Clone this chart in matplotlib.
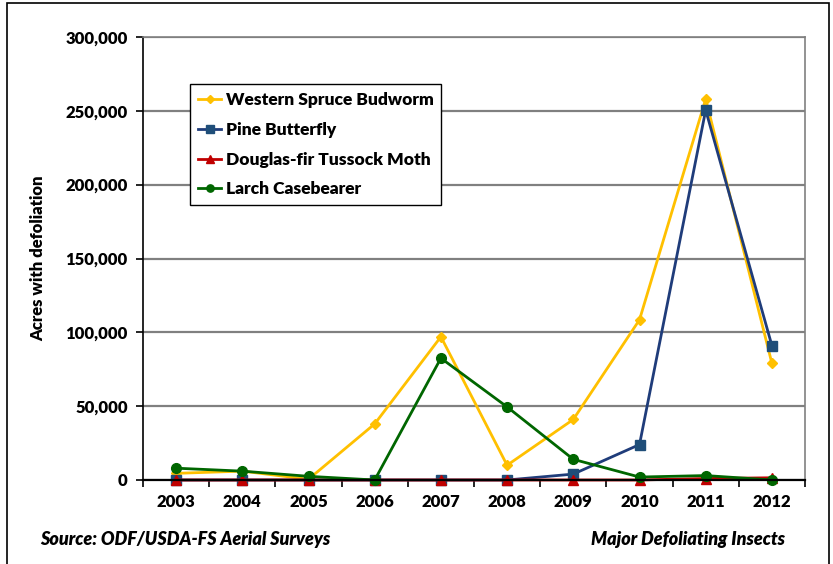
import matplotlib.pyplot as plt
from matplotlib.patches import Rectangle
from matplotlib.ticker import FuncFormatter, MultipleLocator

plt.rcParams['font.family'] = ['Lato', 'DejaVu Sans']

# Acres defoliated per year, by insect
years = ['2003', '2004', '2005', '2006', '2007', '2008', '2009', '2010', '2011', '2012']
spruce_budworm = [4500, 6000, 500, 38000, 97000, 10000, 41000, 108500, 258000, 79000]
pine_butterfly = [0, 0, 0, 0, 0, 0, 4000, 24000, 250500, 91000]
tussock_moth = [0, 0, 0, 0, 0, 0, 0, 0, 1000, 1500]
larch_casebearer = [8000, 6000, 2500, 0, 82500, 49500, 14000, 2000, 3000, 0]

fig = plt.figure(figsize=(8.33, 5.64), dpi=100)
ax = fig.add_axes([143 / 833, 1 - 480 / 564, 662 / 833, 443 / 564])

x = list(range(len(years)))
ax.plot(x, spruce_budworm, color='#FFC000', marker='D', ms=5, lw=2,
        clip_on=False, label='Western Spruce Budworm')
ax.plot(x, pine_butterfly, color='#1F3C7A', marker='s', ms=7, lw=2,
        mfc='#1F4E79', mec='#1F4E79', clip_on=False, label='Pine Butterfly')
ax.plot(x, tussock_moth, color='#C00000', marker='^', ms=7, lw=2,
        clip_on=False, label='Douglas-fir Tussock Moth')
ax.plot(x, larch_casebearer, color='#006600', marker='o', ms=7, lw=2,
        clip_on=False, label='Larch Casebearer')

ax.set_xlim(-0.5, len(years) - 0.5)
ax.set_ylim(0, 300000)
ax.yaxis.set_major_locator(MultipleLocator(50000))
ax.yaxis.set_major_formatter(FuncFormatter(lambda v, p: f'{int(v):,}'))
ax.set_xticks(x)
ax.set_xticklabels(years)
ax.set_xticks([i - 0.5 for i in range(len(years) + 1)], minor=True)
ax.tick_params(axis='x', which='major', length=0, pad=10)
ax.tick_params(axis='x', which='minor', length=5, width=1.2, direction='out')
ax.tick_params(axis='y', length=5, width=1.2, direction='out', pad=6)
for lab in ax.get_xticklabels() + ax.get_yticklabels():
    lab.set_fontweight('heavy')
    lab.set_fontsize(12)

ax.grid(axis='y', color='#808080', lw=1.6)
ax.set_axisbelow(True)
for side in ['top', 'right']:
    ax.spines[side].set_color('#808080')
    ax.spines[side].set_linewidth(1.2)
ax.spines['left'].set_color('black')
ax.spines['left'].set_linewidth(1.2)
ax.spines['bottom'].set_linewidth(1.6)

ax.set_ylabel('Acres with defoliation', fontsize=12, fontweight='heavy', labelpad=14)

leg = ax.legend(loc='upper left', bbox_to_anchor=(47 / 662, 1 - 47 / 443),
                frameon=True, fancybox=False, edgecolor='black', framealpha=1,
                prop={'weight': 'heavy', 'size': 12.5}, handlelength=1.35,
                handletextpad=0.25, labelspacing=0.8, borderpad=0.45,
                borderaxespad=0, markerscale=0.75)
leg.get_frame().set_linewidth(1.0)

fig.text(40 / 833, 1 - 540 / 564, 'Source: ODF/USDA-FS Aerial Surveys',
         fontsize=13, fontweight='heavy', style='italic', va='center')
fig.text(785 / 833, 1 - 540 / 564, 'Major Defoliating Insects',
         fontsize=13, fontweight='heavy', style='italic', va='center', ha='right')

# outer frame around the whole chart
fig.patches.append(Rectangle((7 / 833, -0.05), 822 / 833, 1.05 - 3 / 564,
                             transform=fig.transFigure, fill=False,
                             edgecolor='black', lw=1.2))

fig.savefig('out.png', dpi=100)
